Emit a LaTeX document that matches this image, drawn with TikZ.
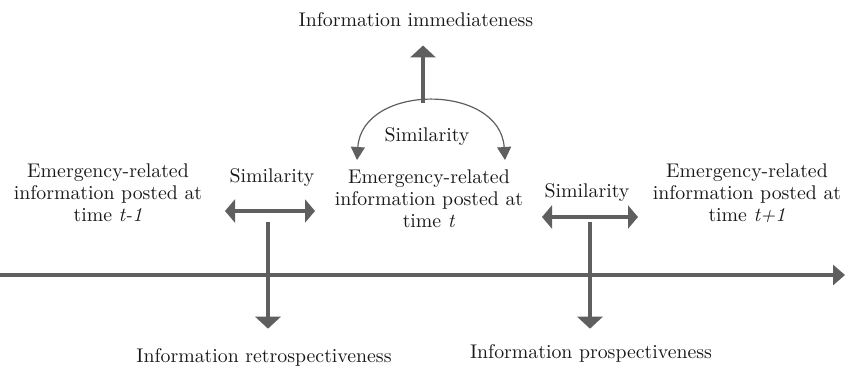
\documentclass[tikz,border=0pt]{standalone}
\usepackage{xcolor}
\usetikzlibrary{arrows.meta,calc,positioning}
\definecolor{arrowgray}{RGB}{95,95,95}
\definecolor{textblack}{RGB}{25,25,25}

\begin{document}
\begin{tikzpicture}[
  x=1pt, y=-1pt,
  info/.style={align=center, inner sep=0pt, text=textblack,
               font=\fontsize{10}{11.1}\selectfont, scale=1.98, transform shape},
  lbl/.style={inner sep=0pt, text=textblack,
              font=\fontsize{10}{11.1}\selectfont, scale=1.98, transform shape},
  arr/.style={draw=arrowgray, line width=3.5pt,
              -{Triangle[length=12pt, width=25pt]}},
  dbl/.style={draw=arrowgray, line width=3.5pt,
              {Triangle[length=10pt, width=23pt]}-{Triangle[length=10pt, width=23pt]}},
  axis/.style={draw=arrowgray, line width=3.5pt,
               -{Triangle[length=12pt, width=20pt]}},
  arcarr/.style={draw=arrowgray, line width=1.2pt,
                 {Triangle[length=13pt, width=14pt]}-{Triangle[length=13pt, width=14pt]}}
]
\useasboundingbox (0,0) rectangle (848,376);

% ── Time axis ──
\coordinate (t0) at (0,275);
\coordinate (t1) at (845,275);
\draw[axis] (t0) -- (t1);

% ── Posts along the axis ──
\node[info] (prev) at (108,193)
  {Emergency-related\\information posted at\\time \textit{t-1}};
\node[info] (curr) at (429,199)
  {Emergency-related\\information posted at\\time \textit{t}};
\node[info] (next) at (747,193)
  {Emergency-related\\information posted at\\time \textit{t+1}};

% ── Left similarity: retrospectiveness ──
\node[lbl] (sim1) at (272,178) {Similarity};
\coordinate (s1l) at (225,211);
\coordinate (s1r) at (315,211);
\draw[dbl] (s1l) -- (s1r);
\node[lbl] (retro) at (264,357) {Information retrospectiveness};
\coordinate (s1m) at (268,222);
\draw[arr, shorten >=19pt] (s1m) -- (s1m |- retro.north);

% ── Right similarity: prospectiveness ──
\node[lbl] (sim2) at (587,193) {Similarity};
\coordinate (s2l) at (542,217);
\coordinate (s2r) at (638,217);
\draw[dbl] (s2l) -- (s2r);
\node[lbl] (prosp) at (591,353) {Information prospectiveness};
\coordinate (s2m) at (590,222);
\draw[arr, shorten >=15pt] (s2m) -- (s2m |- prosp.north);

% ── Top similarity: immediateness ──
\node[lbl] (sim3) at (427,137) {Similarity};
\coordinate (arcL) at (357,160);
\coordinate (arcR) at (505,160);
\draw[arcarr] (arcL) .. controls (362,83) and (500,83) .. (arcR);
\node[lbl] (immed) at (416,20) {Information immediateness};
\coordinate (peak) at (423,103);
\draw[arr, shorten >=18pt] (peak) -- (peak |- immed.south);

\end{tikzpicture}
\end{document}
